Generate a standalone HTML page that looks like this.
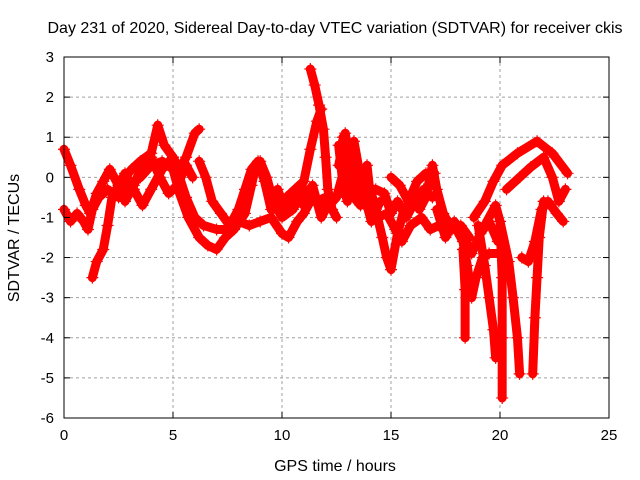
<!DOCTYPE html>
<html><head><meta charset="utf-8"><style>
body{margin:0;background:#fff}
svg{display:block;font-family:"Liberation Sans",sans-serif}
</style></head><body>
<svg id="chart" width="640" height="480" viewBox="0 0 640 480">
<rect width="640" height="480" fill="#fff"/>
<text x="335" y="33" font-size="16" text-anchor="middle">Day 231 of 2020, Sidereal Day-to-day VTEC variation (SDTVAR) for receiver ckis</text>
<text x="335" y="471" font-size="16" text-anchor="middle">GPS time / hours</text>
<text transform="translate(19,238) rotate(-90)" font-size="16" text-anchor="middle">SDTVAR / TECUs</text>
<g id="grid"></g><g id="series"></g><g id="axes"></g>
</svg>
<script>
const xTicks=[0,5,10,15,20,25];
const yTicks=[-6,-5,-4,-3,-2,-1,0,1,2,3];
const traceA=[[0,0.7],[0.3,0.3],[0.7,-0.3],[1,-0.7],[1.2,-0.9],[1.5,-0.4],[1.8,-0.1],[2.1,0.2],[2.5,-0.2],[2.8,0],[3.1,0.2],[3.5,0.4],[4,0.6],[4.3,1.3],[4.6,0.8],[5,0.5],[5.3,0.2],[5.6,0.5],[6,1.1],[6.2,1.2]];
const traceB=[[0,-0.8],[0.3,-1.1],[0.6,-0.9],[0.9,-1.1],[1.1,-1.3],[1.3,-0.8],[1.6,-0.5],[2,-0.3],[2.5,-0.5],[3,-0.2],[3.5,0],[4,0.3],[4.5,0.4],[5,0.2],[5.3,-0.4],[5.7,-1.0],[6.2,-1.5],[6.6,-1.7],[7,-1.8],[7.4,-1.5],[7.8,-1.3],[8.3,-0.9],[8.6,-0.2],[8.8,0.3],[9,0.4],[9.3,0],[9.6,-0.6],[10,-1.0],[10.5,-0.8],[11,-0.3],[11.5,-0.5],[12,-0.8],[12.5,-0.5],[13,0.5]];
const traceC=[[1.3,-2.5],[1.5,-2.1],[1.8,-1.8],[2,-1.2],[2.2,-0.5],[2.5,-0.2],[2.8,0.1],[3.2,-0.3],[3.6,-0.7],[4,-0.3],[4.5,0.2],[5,0.5],[5.3,0],[5.6,-0.5],[6,-1.0],[6.4,-1.2],[7,-1.3],[7.5,-1.3],[8,-1.1],[8.5,-1.2],[9,-1.1],[9.5,-1.0],[10,-1.4],[10.3,-1.5],[10.7,-1.1],[11,-0.9],[11.3,-0.6],[11.6,-0.6],[12,-0.5]];
const traceD=[[6.2,0.4],[6.5,0],[6.8,-0.6],[7.2,-0.9],[7.6,-1.2],[8,-0.8],[8.3,-0.3],[8.6,0.2],[8.9,0.4],[9.2,-0.1],[9.5,-0.8],[9.8,-0.8],[10.2,-0.5],[10.6,-0.3],[11,-0.1],[11.3,0.7],[11.6,1.4],[11.8,1.7]];
const traceE=[[11.3,2.7],[11.5,2.3],[11.7,1.8],[11.9,1.2],[12,0.5],[12.1,-0.3],[12.3,-0.8],[12.5,-1.0]];
const traceF=[[12.6,0.3],[12.9,1.1],[13.1,0.5],[13.3,-0.5],[13.6,-0.7],[13.9,0.3],[14,-0.2],[14.3,-0.8],[14.6,-1.5],[14.8,-2.0],[15,-2.3],[15.3,-1.4],[15.6,-0.8],[16,-0.5],[16.3,-0.8],[16.6,-0.5],[16.9,0.3],[17.1,-0.3],[17.4,-0.9],[17.8,-1.3],[18.2,-1.2],[18.6,-1.5]];
const traceG=[[12.8,1.0],[13.2,0.2],[13.6,-0.3],[14,-0.8],[14.4,-1.0],[14.8,-0.9],[15.2,-1.3],[15.5,-1.6],[15.9,-1.2],[16.4,-1.0],[16.8,-1.3],[17.2,-1.2],[17.6,-1.4]];
const traceH=[[15,0],[15.4,-0.2],[15.8,-0.6],[16.2,-0.1],[16.6,0.1],[17,0.1]];
const traceI=[[17.5,-1.1],[18,-1.3],[18.3,-1.6],[18.5,-2.2],[18.7,-3.0],[18.9,-2.5],[19.2,-2.0],[19.5,-1.9],[19.9,-1.9]];
const traceJ=[[18.3,-1.8],[18.4,-2.8],[18.4,-4.0]];
const traceK=[[19.0,-1.2],[19.3,-2.2],[19.5,-3.0],[19.7,-3.8],[19.8,-4.5]];
const traceL=[[18.8,-1.0],[19.3,-0.6],[19.7,-0.1],[20.1,0.3],[20.8,0.6],[21.7,0.9],[22.4,0.6],[23.1,0.1]];
const traceM=[[19.3,-1.2],[19.8,-0.7],[20.0,-1.1],[20.1,-2.5],[20.1,-4.0],[20.1,-5.5]];
const traceN=[[20.3,-0.3],[20.9,0],[21.4,0.25],[22.0,0.5],[22.4,0],[22.7,-0.6],[23.0,-0.3]];
const traceO=[[20.0,-1.1],[20.4,-2.1],[20.6,-3.0],[20.8,-4.0],[20.9,-4.9]];
const traceP=[[22.0,-0.6],[21.8,-1.5],[21.7,-2.5],[21.6,-3.5],[21.5,-4.9]];
const traceQ=[[21.0,-2.0],[21.3,-2.1],[21.6,-1.6],[21.9,-0.8],[22.2,-0.6],[22.6,-0.9],[22.9,-1.1]];
const traceR=[[2.8,-0.6],[3.2,-0.2],[3.6,0.3],[4.0,0.5],[4.4,0.0],[4.8,-0.4],[5.2,-0.2],[5.6,0.3],[5.9,0.0]];
const traceS=[[9.8,-0.3],[10.2,-0.9],[10.6,-0.5],[11.0,-0.7],[11.4,-0.2],[11.8,-1.0],[12.2,-0.6]];
const traceT=[[12.6,0.8],[12.8,-0.2],[13.0,-0.6],[13.3,0.9],[13.5,0.3],[13.8,-0.5],[14.1,-1.1],[14.5,-0.6]];
const traceU=[[14.3,-0.3],[14.7,-0.4],[15.0,-0.9],[15.3,-0.6],[15.7,-1.0],[16.1,-0.6],[16.5,-0.3],[16.9,-0.5]];
const traceV=[[17.1,-0.8],[17.5,-1.5],[17.9,-1.1],[18.3,-1.4],[18.7,-1.9],[19.1,-1.4],[19.5,-1.1],[19.9,-1.6]];
const traces=[traceA,traceB,traceC,traceD,traceE,traceF,traceG,traceH,traceI,traceJ,traceK,traceL,traceM,traceN,traceO,traceP,traceQ,traceR,traceS,traceT,traceU,traceV];
const X0=64,X1=609,Y0=418,Y1=57;
const xs=h=>X0+(h-0)/(25-0)*(X1-X0);
const ys=v=>Y0-(v+6)/9*(Y0-Y1);
const NS="http://www.w3.org/2000/svg";
function mk(tag,attrs,parent){const e=document.createElementNS(NS,tag);for(const k in attrs)e.setAttribute(k,attrs[k]);parent.appendChild(e);return e;}
const grid=document.getElementById('grid'),axes=document.getElementById('axes'),ser=document.getElementById('series');
xTicks.forEach(t=>{
  const x=xs(t);
  if(t>0&&t<25){const g=mk('line',{x1:x,x2:x,y1:Y1,y2:Y0,stroke:'#a0a0a0','stroke-dasharray':'3,3'},grid);
  
  }
  mk('line',{x1:x,x2:x,y1:Y0,y2:Y0-6,stroke:'#000'},axes);
  mk('line',{x1:x,x2:x,y1:Y1,y2:Y1+6,stroke:'#000'},axes);
  const l=mk('text',{x:x,y:Y0+22,'font-size':15,'text-anchor':'middle'},axes);l.textContent=t;
  
  
});
yTicks.forEach(t=>{
  const y=ys(t);
  if(t>-6&&t<3){const g=mk('line',{x1:X0,x2:X1,y1:y,y2:y,stroke:'#a0a0a0','stroke-dasharray':'3,3'},grid);
  
  }
  mk('line',{x1:X0,x2:X0+6,y1:y,y2:y,stroke:'#000'},axes);
  mk('line',{x1:X1,x2:X1-6,y1:y,y2:y,stroke:'#000'},axes);
  const l=mk('text',{x:X0-10,y:y+5,'font-size':15,'text-anchor':'end'},axes);l.textContent=t;
  
  
});
const frame=mk('rect',{x:X0,y:Y1,width:X1-X0,height:Y0-Y1,fill:'none',stroke:'#000'},axes);


traces.forEach((tr,i)=>{
  const g=mk('g',{},ser);
  
  
  mk('polyline',{points:tr.map(p=>xs(p[0])+','+ys(p[1])).join(' '),fill:'none',stroke:'#f00','stroke-width':9,'stroke-linejoin':'round','stroke-linecap':'round'},g);
  tr.forEach(p=>{const x=xs(p[0]),y=ys(p[1]);
    mk('path',{d:`M${x-6},${y}H${x+6}M${x},${y-6}V${y+6}`,stroke:'#f00','stroke-width':1.2},g);});
});
</script>
</body></html>
